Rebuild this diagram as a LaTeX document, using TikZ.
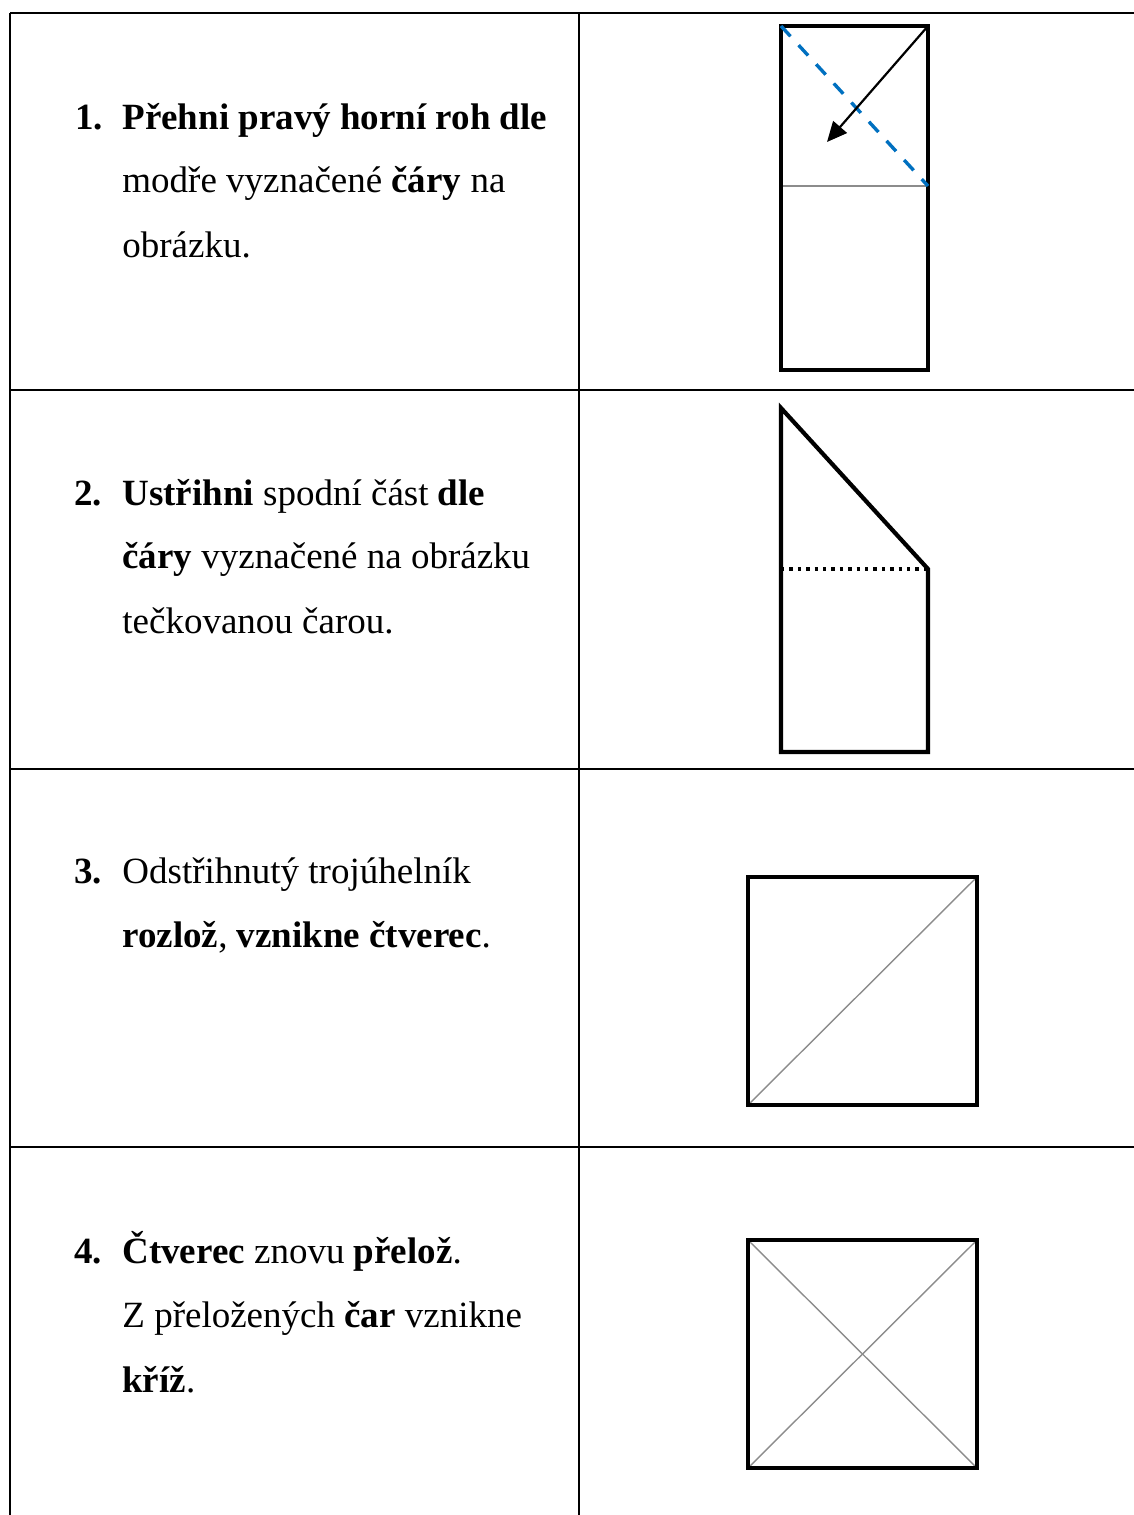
\documentclass[tikz,border=0pt]{standalone}
\usepackage{fontspec}
\setmainfont{Liberation Serif}
\usetikzlibrary{arrows.meta}
\definecolor{foldblue}{HTML}{0070C0}
\tikzset{
  grid/.style={line width=1.2pt, black},
  outline/.style={line width=2.1pt, black, line join=miter},
  crease/.style={line width=0.7pt, black!45},
  txt/.style={anchor=base west, inner sep=0pt, font=\fontsize{18.5}{32}\selectfont},
  num/.style={txt, font=\fontsize{18.5}{32}\selectfont\bfseries},
}
\begin{document}
\begin{tikzpicture}[x=0.5pt,y=-0.5pt]
\useasboundingbox (0,0) rectangle (1134,1515);
% table grid
\draw[grid] (10,13) -- (1134,13);
\draw[grid] (10,390) -- (1134,390);
\draw[grid] (10,769) -- (1134,769);
\draw[grid] (10,1147) -- (1134,1147);
\draw[grid] (10,13) -- (10,1515);
\draw[grid] (579,13) -- (579,1515);

% row 1 text
\node[num] (n1) at (75,129) {1.};
\node[txt] (t1a) at (122,129) {\textbf{Přehni pravý horní roh dle}};
\node[txt] (t1b) at (122,192) {modře vyznačené \textbf{čáry} na};
\node[txt] (t1c) at (122,257) {obrázku.};
% row 2 text
\node[num] (n2) at (74,505) {2.};
\node[txt] (t2a) at (122,505) {\textbf{Ustřihni} spodní část \textbf{dle}};
\node[txt] (t2b) at (122,568) {\textbf{čáry} vyznačené na obrázku};
\node[txt] (t2c) at (122,633) {tečkovanou čarou.};
% row 3 text
\node[num] (n3) at (74,883) {3.};
\node[txt] (t3a) at (122,883) {Odstřihnutý trojúhelník};
\node[txt] (t3b) at (122,947) {\textbf{rozlož}, \textbf{vznikne čtverec}.};
% row 4 text
\node[num] (n4) at (74,1263) {4.};
\node[txt] (t4a) at (122,1263) {\textbf{Čtverec} znovu \textbf{přelož}.};
\node[txt] (t4b) at (122,1327) {Z přeložených \textbf{čar} vznikne};
\node[txt] (t4c) at (122,1392) {\textbf{kříž}.};

% panel 1
\coordinate (p1tl) at (781,26);
\coordinate (p1tr) at (928,26);
\coordinate (p1ml) at (781,186);
\coordinate (p1mr) at (928,186);
\coordinate (p1tip) at (827,142);
\draw[crease] (p1ml) -- (p1mr);
\draw[outline] (781,26) rectangle (928,370);
\draw[foldblue, line width=1.7pt, dash pattern=on 7pt off 6pt] (p1tl) -- (p1mr);
\draw[line width=1.1pt, -{Triangle[length=10pt,width=9pt]}] (p1tr) -- (p1tip);

% panel 2
\draw[outline] (928,569) -- (781,408) -- (781,752) -- (928,752) -- cycle;
\draw[line width=1.8pt, dash pattern=on 1.7pt off 2.5pt] (781,569) -- (928,569);

% panel 3
\coordinate (s3bl) at (748,1105);
\coordinate (s3tr) at (977,877);
\draw[crease] (s3bl) -- (s3tr);
\draw[outline] (748,877) rectangle (977,1105);

% panel 4
\coordinate (s4tl) at (748,1240);
\coordinate (s4tr) at (977,1240);
\coordinate (s4bl) at (748,1468);
\coordinate (s4br) at (977,1468);
\draw[crease] (s4tl) -- (s4br);
\draw[crease] (s4tr) -- (s4bl);
\draw[outline] (s4tl) rectangle (s4br);
\end{tikzpicture}
\end{document}
